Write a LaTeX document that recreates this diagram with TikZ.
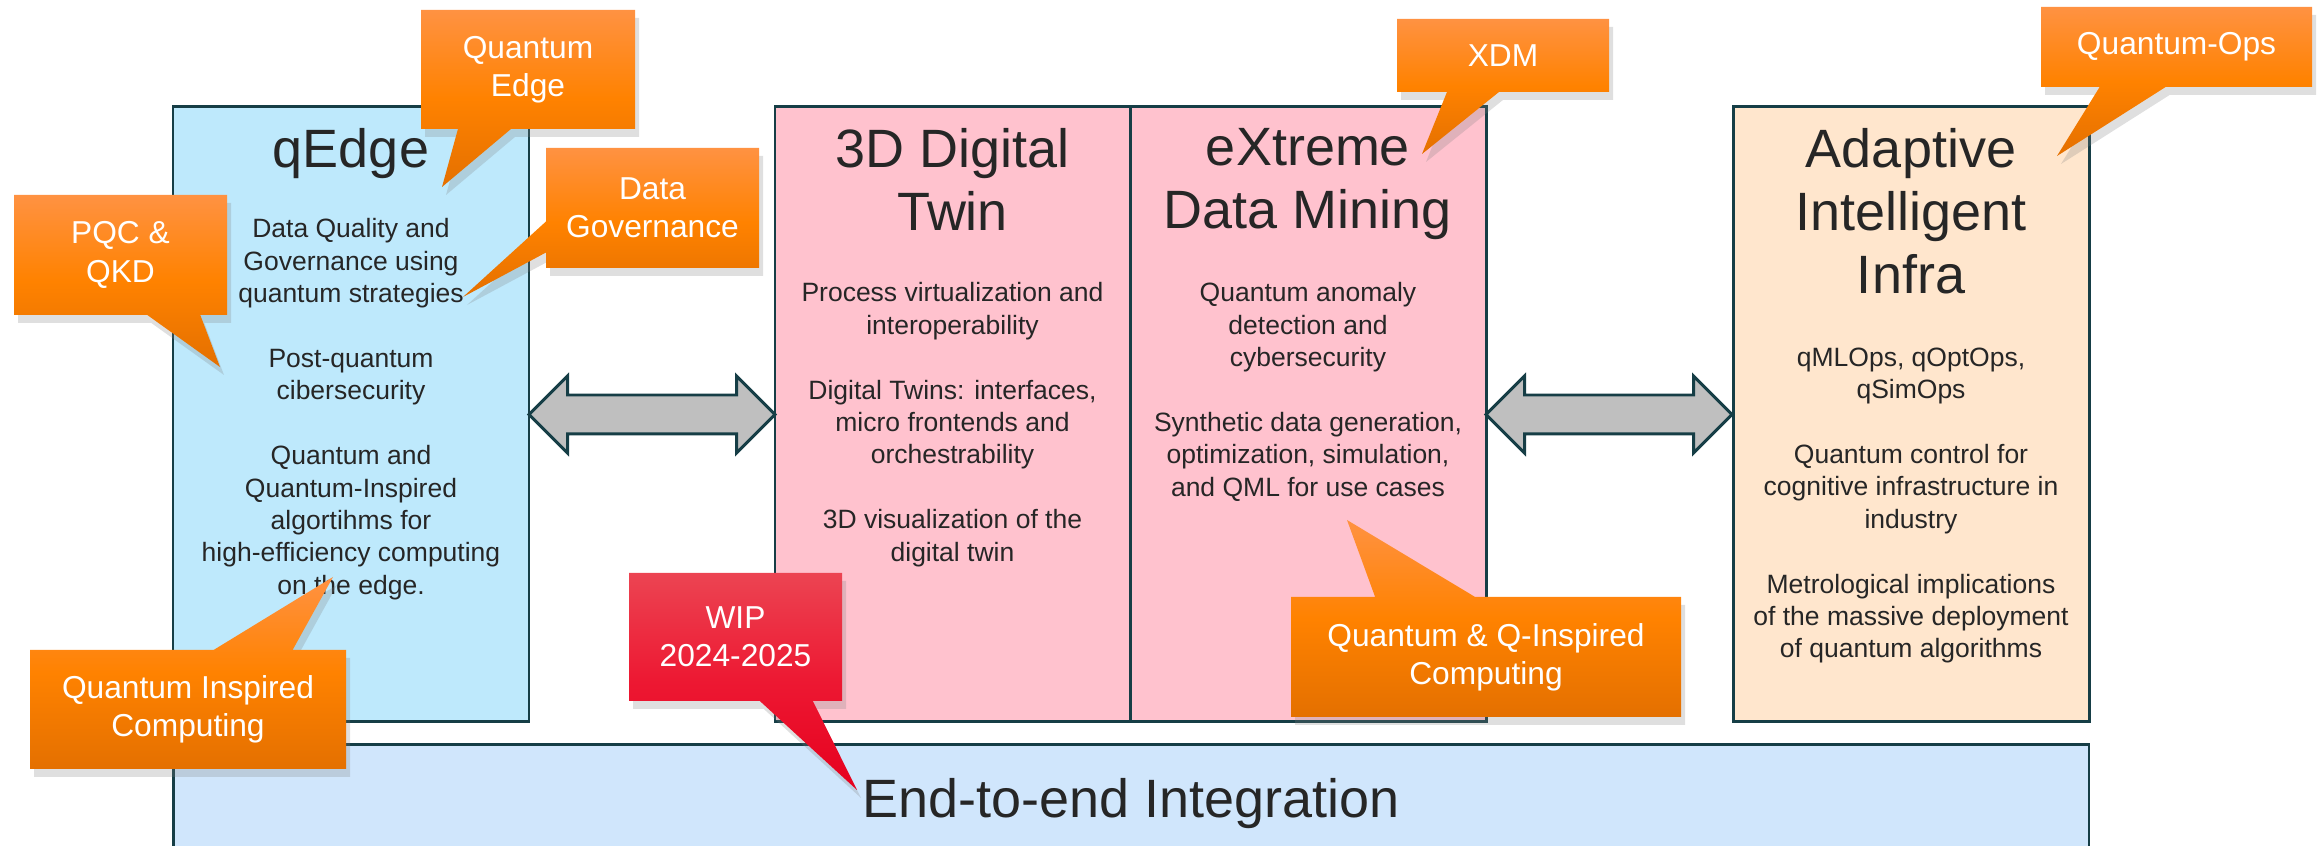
\documentclass[tikz,border=0pt]{standalone}
\usepackage{fontspec}
\setmainfont{Liberation Sans}
\usepackage{tikz}
\usepackage{xcolor}
\usetikzlibrary{shapes, shapes.arrows, shapes.callouts, shadows, positioning}

\definecolor{frame}{RGB}{22,62,70}
\definecolor{ink}{RGB}{38,38,38}
\definecolor{edgefill}{RGB}{190,233,252}
\definecolor{twinfill}{RGB}{255,194,206}
\definecolor{infrafill}{RGB}{255,230,205}
\definecolor{integfill}{RGB}{208,230,252}
\definecolor{linkfill}{RGB}{191,191,191}
\definecolor{orangetop}{RGB}{255,146,66}
\definecolor{orangemid}{RGB}{255,130,0}
\definecolor{orangebot}{RGB}{228,112,0}
\definecolor{redtop}{RGB}{236,68,82}
\definecolor{redmid}{RGB}{237,24,50}
\definecolor{redbot}{RGB}{230,0,30}

\begin{document}
\begin{tikzpicture}[x=0.1mm, y=-0.1mm,
        col/.style={draw=frame, line width=0.85pt, outer sep=0pt, minimum width=3.56cm, minimum height=6.15cm},
        title/.style={anchor=north, inner sep=0pt, align=center, text=ink, font=\fontsize{15.36}{17.93}\selectfont},
        body/.style={anchor=north, inner sep=0pt, align=center, text=ink, font=\fontsize{7.54}{9.22}\selectfont},
        link/.style={double arrow, draw=frame, fill=linkfill, line width=0.85pt, outer sep=0pt, inner sep=0pt,
            text height=0.36cm, text depth=0pt, minimum height=2.46cm, double arrow head extend=0.19cm,
            double arrow tip angle=90},
        bubble/.style={rectangle callout, inner sep=0pt, align=center, text=white,
            font=\fontsize{9.02}{10.9}\selectfont, top color=orangetop, bottom color=orangebot, middle color=orangemid,
            drop shadow={shadow xshift=0.4mm, shadow yshift=-0.8mm, opacity=0.25}},
        hot/.style={bubble, top color=redtop, bottom color=redbot, middle color=redmid}]
        \useasboundingbox (0,0) rectangle (2323,846);

        \node[col, fill=edgefill] (edge) at (351,414.5) {};
        \node[col, fill=twinfill, minimum width=3.55cm] (twin) at (952.5,414.5) {};
        \node[col, fill=twinfill] (xdm) at (1308,414.5) {};
        \node[col, fill=infrafill] (infra) at (1911,414.5) {};
        \node[col, fill=integfill, minimum width=19.16cm, minimum height=1.17cm, text=ink,
            font=\fontsize{15.36}{17.93}\selectfont] (integ) at (1131,803.5) {End-to-end Integration};

        \node[link, right=0pt of edge] (l1) {};
        \node[link, right=0pt of xdm] (l2) {};

        \node[title] (edget) at (351,128) {qEdge};
        \node[title] (twint) at (952.5,128) {3D Digital\\Twin};
        \node[title] (xdmt) at (1308,128) {eXtreme\\Data Mining};
        \node[title] (infrat) at (1911,128) {Adaptive\\Intelligent\\Infra};

        \node[body] (edgeb) at (351,218) {Data Quality and\\Governance using\\quantum strategies\\[9.22pt]
            Post-quantum\\cibersecurity\\[9.22pt]Quantum and\\Quantum-Inspired\\algortihms for\\
            high-efficiency computing\\on the edge.};
        \node[body] (twinb) at (952.5,282) {Process virtualization and\\interoperability\\[9.22pt]
            Digital Twins: interfaces,\\micro frontends and\\orchestrability\\[9.22pt]
            3D visualization of the\\digital twin};
        \node[body] (xdmb) at (1308,282) {Quantum anomaly\\detection and\\cybersecurity\\[9.22pt]
            Synthetic data generation,\\optimization, simulation,\\and QML for use cases};
        \node[body] (infrab) at (1911,347) {qMLOps, qOptOps,\\qSimOps\\[9.22pt]
            Quantum control for\\cognitive infrastructure in\\industry\\[9.22pt]
            Metrological implications\\of the massive deployment\\of quantum algorithms};

        \node[bubble, minimum width=2.14cm, minimum height=1.19cm, callout pointer width=0.53cm,
            callout absolute pointer={(442,187)}] (qe) at (528,69.5) {Quantum\\Edge};
        \node[bubble, minimum width=2.13cm, minimum height=1.2cm, callout pointer width=0.31cm,
            callout absolute pointer={(463,297)}] (dg) at (652.5,208) {Data\\Governance};
        \node[bubble, minimum width=2.13cm, minimum height=1.2cm, callout pointer width=0.53cm,
            callout absolute pointer={(220,367)}] (pqc) at (120.5,255) {PQC \&\\QKD};
        \node[bubble, minimum width=3.16cm, minimum height=1.19cm, callout pointer width=0.79cm,
            callout absolute pointer={(333,577)}] (qic) at (188,709.5) {Quantum Inspired\\Computing};
        \node[hot, minimum width=2.13cm, minimum height=1.28cm, callout pointer width=0.53cm,
            callout absolute pointer={(857,790)}] (wip) at (735.5,637) {WIP\\2024-2025};
        \node[bubble, minimum width=2.12cm, minimum height=0.73cm, callout pointer width=0.52cm,
            callout absolute pointer={(1422,154)}] (xdmc) at (1503,55.5) {XDM};
        \node[bubble, minimum width=2.71cm, minimum height=0.8cm, callout pointer width=0.66cm,
            callout absolute pointer={(2057,156)}] (qops) at (2176.5,47) {Quantum-Ops};
        \node[bubble, minimum width=3.9cm, minimum height=1.2cm, callout pointer width=1cm,
            callout absolute pointer={(1347,520)}] (qqc) at (1486,657) {Quantum \& Q-Inspired\\Computing};
    \end{tikzpicture}
\end{document}
